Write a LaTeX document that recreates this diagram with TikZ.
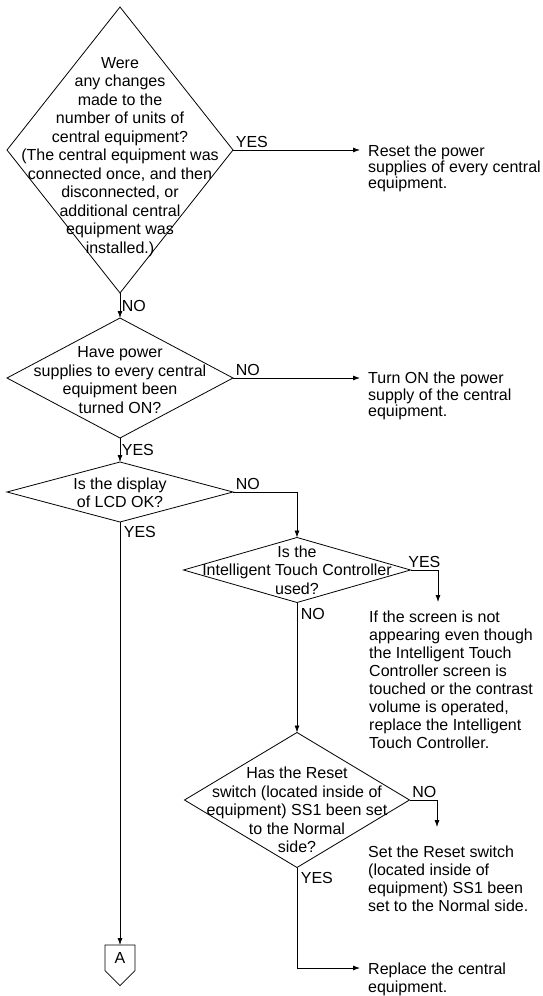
\documentclass[tikz,border=0pt]{standalone}
\usepackage{fontspec}
\setmainfont{Liberation Sans}
\usepackage{tikz}
\usetikzlibrary{arrows.meta,positioning,shapes.geometric,shapes.symbols,calc}
\tikzset{
  dec/.style={draw, diamond, inner sep=0pt, outer sep=0pt, line width=0.8pt},
  txt/.style={align=center, inner sep=0pt, font=\fontsize{16}{18.5}\selectfont},
  note/.style={align=left, anchor=north west, inner sep=0pt, font=\fontsize{16}{18}\selectfont},
  lbl/.style={inner sep=1.5pt, font=\fontsize{16}{18}\selectfont},
  arr/.style={-{Latex[length=7pt,width=5pt]}, line width=0.8pt},
  offpage/.style={draw, signal, signal to=south, signal from=nowhere, signal pointer angle=90, minimum width=30pt, inner sep=0pt, outer sep=0pt, line width=0.8pt, font=\fontsize{16}{18}\selectfont},
}
\begin{document}
\begin{tikzpicture}[x=1pt, y=1pt]
\useasboundingbox (0,0) rectangle (543,-996);
% decisions
\node[dec, minimum width=226pt, minimum height=286pt] (q1) at (120,-150) {};
\node[txt] (t1) at ([yshift=-7pt]q1.center) {Were\\any changes\\made to the\\number of units of\\central equipment?\\(The central equipment was\\connected once, and then\\disconnected, or\\additional central\\equipment was\\installed.)};
\node[dec, minimum width=226pt, minimum height=120pt] (q2) at (120,-378) {};
\node[txt] (t2) at ([yshift=-2pt]q2.center) {Have power\\supplies to every central\\equipment been\\turned ON?};
\node[dec, minimum width=226pt, minimum height=60pt] (q3) at (120,-492) {};
\node[txt] (t3) at ([yshift=-1pt]q3.center) {Is the display\\of LCD OK?};
\node[dec, minimum width=227pt, minimum height=65pt] (q4) at (297,-570) {};
\node[txt] (t4) at (q4.center) {Is the\\Intelligent Touch Controller\\used?};
\node[dec, minimum width=225pt, minimum height=135pt] (q5) at (297,-800) {};
\node[txt] (t5) at ([yshift=-10pt]q5.center) {Has the Reset\\switch (located inside of\\equipment) SS1 been set\\to the Normal\\side?};
\node[offpage, minimum height=31pt, anchor=north] (A) at (120,-945) {A};
% actions
\node[note, font=\fontsize{16}{16}\selectfont] (r1) at (368,-145) {Reset the power\\supplies of every central\\equipment.};
\node[note, font=\fontsize{16}{16.5}\selectfont] (r2) at (368,-372) {Turn ON the power\\supply of the central\\equipment.};
\node[note] (r4) at (369,-611) {If the screen is not\\appearing even though\\the Intelligent Touch\\Controller screen is\\touched or the contrast\\volume is operated,\\replace the Intelligent\\Touch Controller.};
\node[note] (r5) at (368,-846) {Set the Reset switch\\(located inside of\\equipment) SS1 been\\set to the Normal side.};
\node[note] (r6) at (368,-963) {Replace the central\\equipment.};
% arrow ends
\coordinate (e1) at (360,-150);
\coordinate (e2) at (360,-378);
\coordinate (e4) at (438,-602);
\coordinate (e5) at (437,-827);
\coordinate (e6) at (360,-968);
% connectors
\draw[arr] (q1.east) -- node[pos=0, anchor=south west, lbl, xshift=1pt] {YES} (e1);
\draw[arr] (q1.south) -- node[midway, right, lbl] {NO} (q2.north);
\draw[arr] (q2.east) -- node[pos=0, anchor=south west, lbl, xshift=1pt] {NO} (e2);
\draw[arr] (q2.south) -- node[midway, right, lbl] {YES} (q3.north);
\draw[arr] (q3.east) -| node[pos=0, anchor=south west, lbl, xshift=1pt] {NO} (q4.north);
\draw[arr] (q3.south) -- node[pos=0, anchor=north west, lbl, xshift=2pt, yshift=-2pt] {YES} (A.north);
\draw[arr] (q4.east) -| node[pos=0, anchor=south west, lbl, xshift=-4pt] {YES} (e4);
\draw[arr] (q4.south) -- node[pos=0, anchor=north west, lbl, xshift=2pt, yshift=-4pt] {NO} (q5.north);
\draw[arr] (q5.east) -| node[pos=0, anchor=south west, lbl, xshift=1pt] {NO} (e5);
\draw[arr] (q5.south) |- node[pos=0, anchor=north west, lbl, xshift=2pt, yshift=-3pt] {YES} (e6);
\end{tikzpicture}
\end{document}
